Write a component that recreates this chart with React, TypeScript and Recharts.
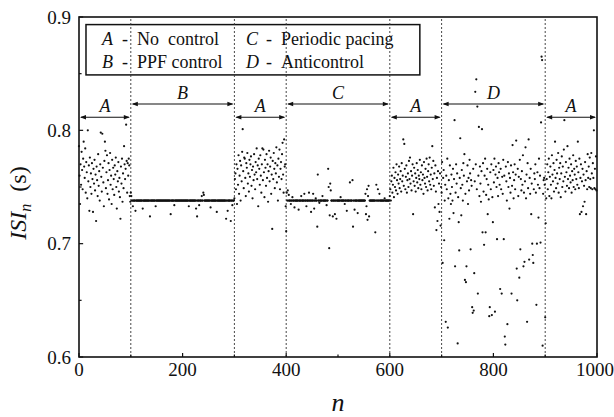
import React from "react";
import {
  ScatterChart,
  Scatter,
  XAxis,
  YAxis,
  ReferenceLine,
  ReferenceArea,
} from "recharts";

// ISI values in ms, one per beat n
const noControl1 = [
  786, 760, 735, 770, 752, 781, 765, 748, 775, 790,
  768, 758, 784, 745, 772, 763, 740, 800, 755, 769,
  729, 776, 750, 762, 744, 771, 757, 728, 766, 753,
  774, 747, 761, 720, 768, 756, 742, 779, 751, 764,
  738, 770, 798, 759, 746, 797, 767, 754, 733, 773,
  790, 782, 749, 763, 778, 744, 756, 771, 739, 765,
  780, 752, 760, 735, 774, 748, 767, 757, 743, 769,
  761, 776, 750, 731, 764, 755, 772, 746, 758, 741,
  722, 768, 753, 775, 737, 762, 749, 786, 770, 757,
  766, 805, 773, 745, 771, 760, 775, 769, 742, 737,
];

const ppfControl = [
  745, 742, 738, 738, 733, 738, 738, 738, 738, 729, 738, 738, 738, 738, 738, 738, 738, 738, 738, 738,
  738, 738, 738, 731, 738, 738, 738, 738, 738, 738, 738, 738, 738, 738, 738, 738, 738, 724, 738, 738,
  738, 738, 738, 738, 738, 738, 738, 738, 733, 738, 738, 738, 738, 738, 738, 738, 738, 738, 738, 738,
  738, 738, 738, 738, 738, 738, 738, 738, 738, 738, 738, 738, 738, 738, 738, 738, 738, 726, 738, 738,
  738, 738, 738, 738, 734, 738, 738, 738, 738, 738, 738, 738, 738, 738, 738, 738, 738, 738, 738, 738,
  738, 738, 738, 738, 738, 738, 738, 738, 738, 738, 738, 738, 733, 738, 738, 738, 738, 738, 738, 738,
  738, 738, 738, 738, 738, 738, 731, 738, 724, 738, 738, 738, 734, 738, 738, 738, 738, 742, 738, 738,
  745, 743, 738, 738, 738, 738, 738, 738, 738, 738, 738, 738, 738, 738, 732, 738, 738, 738, 738, 738,
  738, 738, 738, 738, 738, 738, 728, 738, 738, 738, 738, 738, 738, 738, 738, 738, 738, 738, 738, 738,
  738, 738, 738, 738, 722, 738, 738, 729, 738, 738, 738, 738, 738, 720, 738, 738, 734, 738, 738, 738,
];

const noControl2 = [
  740, 757, 762, 748, 770, 735, 766, 752, 778, 744,
  760, 773, 738, 769, 755, 781, 801, 764, 749, 776,
  775, 758, 742, 771, 767, 780, 753, 762, 746, 774,
  759, 770, 777, 751, 765, 740, 768, 756, 779, 761,
  748, 772, 763, 784, 757, 769, 733, 775, 766, 752,
  778, 760, 745, 770, 784, 756, 783, 763, 741, 774,
  767, 751, 779, 758, 770, 737, 764, 782, 755, 768,
  776, 744, 761, 713, 773, 757, 780, 766, 749, 771,
  762, 785, 754, 769, 738, 775, 759, 783, 748, 766,
  772, 757, 779, 789, 761, 745, 792, 768, 770, 733,
];

const periodicPacing = [
  711, 745, 738, 747, 738, 743, 738, 738, 738, 735, 738, 738, 741, 738, 738, 738, 732, 738, 738, 738,
  738, 738, 738, 738, 730, 738, 738, 738, 738, 742, 738, 738, 738, 738, 738, 744, 738, 738, 738, 733,
  738, 738, 738, 738, 745, 738, 738, 738, 728, 738, 738, 738, 744, 738, 731, 738, 738, 740, 738, 738,
  715, 761, 738, 738, 736, 738, 738, 738, 738, 738, 742, 738, 738, 738, 738, 738, 738, 738, 734, 738,
  738, 766, 750, 696, 725, 753, 747, 738, 738, 738, 724, 738, 738, 738, 726, 738, 738, 722, 738, 738,
  738, 738, 738, 738, 738, 741, 738, 738, 738, 738, 738, 738, 738, 735, 738, 738, 738, 729, 738, 738,
  738, 738, 738, 754, 738, 738, 738, 738, 756, 715, 738, 738, 730, 738, 738, 738, 738, 738, 727, 738,
  738, 738, 738, 738, 738, 738, 738, 738, 738, 738, 738, 738, 738, 744, 726, 733, 748, 721, 742, 751,
  724, 738, 738, 738, 738, 738, 738, 738, 738, 738, 738, 738, 710, 738, 752, 738, 738, 748, 738, 738,
  744, 738, 738, 738, 738, 738, 738, 738, 738, 738, 740, 738, 738, 738, 738, 738, 738, 738, 738, 738,
];

const noControl3 = [
  742, 748, 738, 755, 760, 745, 752, 767, 741, 758,
  750, 763, 747, 770, 756, 744, 761, 753, 768, 749,
  757, 764, 746, 771, 755, 760, 792, 751, 788, 766,
  748, 759, 769, 745, 756, 762, 750, 773, 757, 776,
  753, 764, 747, 760, 770, 726, 755, 767, 751, 762,
  746, 758, 771, 754, 765, 749, 760, 757, 774, 752,
  763, 748, 769, 756, 761, 744, 772, 758, 753, 766,
  750, 775, 759, 747, 764, 770, 755, 776, 752, 761,
  748, 767, 786, 757, 773, 751, 762, 732, 769, 746,
  712, 758, 720, 764, 735, 753, 728, 762, 716, 750,
];

const antiControl = [
  745, 772, 683, 758, 765, 703, 738, 752, 631, 760, 748, 775, 626, 740, 756, 722, 769, 744, 735, 761,
  750, 738, 766, 727, 757, 809, 680, 745, 770, 753, 762, 612, 741, 719, 694, 758, 793, 749, 725, 765,
  752, 738, 771, 760, 779, 668, 744, 666, 680, 755, 769, 735, 758, 747, 774, 762, 695, 756, 751, 644,
  639, 766, 641, 674, 755, 834, 770, 845, 748, 821, 656, 760, 803, 742, 768, 753, 737, 764, 801, 710,
  771, 746, 699, 760, 775, 710, 743, 757, 766, 726, 752, 739, 636, 644, 763, 748, 770, 637, 741, 719,
  765, 754, 775, 640, 761, 768, 750, 704, 758, 742, 771, 763, 752, 660, 766, 748, 656, 759, 744, 774,
  704, 760, 618, 611, 768, 755, 738, 629, 772, 750, 762, 731, 758, 745, 769, 656, 751, 787, 763, 740,
  756, 770, 748, 761, 791, 678, 650, 766, 742, 759, 670, 774, 695, 757, 747, 764, 752, 778, 680, 745,
  684, 755, 785, 740, 761, 631, 771, 749, 792, 686, 758, 744, 766, 726, 753, 700, 690, 683, 748, 762,
  757, 770, 745, 646, 700, 763, 752, 723, 775, 749, 760, 701, 807, 865, 862, 610, 744, 756, 758, 752,
];

const noControl4 = [
  635, 718, 740, 757, 770, 748, 763, 775, 742, 759,
  768, 752, 740, 778, 761, 755, 771, 746, 765, 790,
  758, 749, 774, 762, 753, 780, 745, 767, 757, 771,
  741, 762, 777, 750, 768, 755, 783, 809, 759, 746,
  772, 763, 751, 786, 757, 767, 749, 775, 760, 754,
  770, 745, 764, 756, 778, 750, 766, 761, 748, 773,
  757, 768, 752, 790, 763, 749, 775, 726, 758, 770,
  728, 755, 766, 733, 761, 751, 737, 772, 756, 726,
  764, 748, 779, 758, 768, 750, 776, 757, 749, 780,
  762, 748, 771, 758, 800, 749, 766, 748, 777, 747,
];

const segments = [
  { start: 0, values: noControl1 },
  { start: 100, values: ppfControl },
  { start: 300, values: noControl2 },
  { start: 400, values: periodicPacing },
  { start: 600, values: noControl3 },
  { start: 700, values: antiControl },
  { start: 900, values: noControl4 },
];

const regions = [
  { from: 0, to: 100, label: "A" },
  { from: 100, to: 300, label: "B" },
  { from: 300, to: 400, label: "A" },
  { from: 400, to: 600, label: "C" },
  { from: 600, to: 700, label: "A" },
  { from: 700, to: 900, label: "D" },
  { from: 900, to: 1000, label: "A" },
];

const boundaries = [100, 300, 400, 600, 700, 900];
const xTicks = [0, 200, 400, 600, 800, 1000];
const xMinor = [100, 300, 500, 700, 900];
const yTicks = [0.6, 0.7, 0.8, 0.9];
const yMinor = [0.65, 0.75, 0.85];

const legendRows = [
  [
    { key: "A", text: "No  control" },
    { key: "C", text: "Periodic pacing" },
  ],
  [
    { key: "B", text: "PPF control" },
    { key: "D", text: "Anticontrol" },
  ],
];

const points = segments.flatMap((s) =>
  s.values.map((v, i) => ({ n: s.start + i, isi: v / 1000 }))
);

const FONT = "'Liberation Serif', 'Times New Roman', serif";

const Dot = (props: any) => (
  <circle cx={props.cx} cy={props.cy} r={1.1} fill="#111" />
);

const Arrow = (label: string) => (p: any) => {
  const { x1, x2, y1 } = p;
  const h = 6;
  const w = 2.2;
  return (
    <g>
      <line x1={x1 + 2} x2={x2 - 2} y1={y1} y2={y1} stroke="#111" strokeWidth={1.1} />
      <polygon
        points={`${x1 + 1},${y1} ${x1 + 1 + h},${y1 - w} ${x1 + 1 + h},${y1 + w}`}
        fill="#111"
      />
      <polygon
        points={`${x2 - 1},${y1} ${x2 - 1 - h},${y1 - w} ${x2 - 1 - h},${y1 + w}`}
        fill="#111"
      />
      <text
        x={(x1 + x2) / 2}
        y={y1 - 5}
        textAnchor="middle"
        fontFamily={FONT}
        fontStyle="italic"
        fontSize={18}
        fill="#111"
      >
        {label}
      </text>
    </g>
  );
};

const LegendBox = (p: any) => {
  const { x, y, width, height } = p;
  return (
    <g fontFamily={FONT} fontSize={18} fill="#111">
      <rect x={x} y={y} width={width} height={height} fill="#fff" stroke="#111" strokeWidth={1.5} />
      {legendRows.map((row, r) =>
        row.map((item, c) => {
          const bx = x + 16 + c * 144;
          const by = y + 20.5 + r * 22.5;
          return (
            <g key={`${r}-${c}`}>
              <text x={bx} y={by} fontStyle="italic">
                {item.key}
              </text>
              <text x={bx + 23} y={by} textAnchor="middle">
                -
              </text>
              <text x={bx + 35} y={by} style={{ whiteSpace: "pre" }}>
                {item.text}
              </text>
            </g>
          );
        })
      )}
    </g>
  );
};

const Frame = (p: any) => (
  <rect x={p.x} y={p.y} width={p.width} height={p.height} fill="none" stroke="#111" strokeWidth={1.6} />
);

export default function App() {
  return (
    <div style={{ position: "absolute", left: 0, top: 0, background: "#fff" }}>
      <ScatterChart
        width={614}
        height={417}
        margin={{ top: 17, right: 17, bottom: 0, left: 0 }}
      >
        <XAxis
          dataKey="n"
          type="number"
          domain={[0, 1000]}
          ticks={xTicks}
          height={60}
          tickSize={0}
          tickMargin={6}
          axisLine={false}
          tick={{ fontFamily: FONT, fontSize: 19, fill: "#111" }}
          label={{
            value: "n",
            position: "insideBottom",
            offset: 6,
            style: { fontFamily: FONT, fontStyle: "italic", fontSize: 26, fill: "#111" },
          }}
        />
        <YAxis
          dataKey="isi"
          type="number"
          domain={[0.6, 0.9]}
          ticks={yTicks}
          allowDataOverflow
          width={79}
          tickSize={0}
          tickMargin={8}
          axisLine={false}
          tickFormatter={(v: number) => v.toFixed(1)}
          tick={{ fontFamily: FONT, fontSize: 19, fill: "#111" }}
        />
        {boundaries.map((b) => (
          <ReferenceLine
            key={`b${b}`}
            x={b}
            stroke="#333"
            strokeWidth={0.9}
            strokeDasharray="2 2"
          />
        ))}
        {xTicks.concat(xMinor).map((t) => (
          <ReferenceLine
            key={`xt${t}`}
            segment={[
              { x: t, y: 0.6 },
              { x: t, y: xMinor.includes(t) ? 0.6022 : 0.6036 },
            ]}
            stroke="#111"
            strokeWidth={1.2}
          />
        ))}
        {yTicks.concat(yMinor).map((t) => (
          <ReferenceLine
            key={`yt${t}`}
            segment={[
              { x: 0, y: t },
              { x: yMinor.includes(t) ? 5 : 8, y: t },
            ]}
            stroke="#111"
            strokeWidth={1.2}
          />
        ))}
        {regions.map((r, i) => {
          const level = r.label === "A" ? 0.8115 : 0.8232;
          return (
            <ReferenceLine
              key={`r${i}`}
              segment={[
                { x: r.from, y: level },
                { x: r.to, y: level },
              ]}
              shape={Arrow(r.label)}
            />
          );
        })}
        <ReferenceArea x1={13.5} x2={658} y1={0.8489} y2={0.8933} shape={LegendBox} />
        <ReferenceArea x1={0} x2={1000} y1={0.6} y2={0.9} shape={Frame} />
        <Scatter data={points} shape={Dot} isAnimationActive={false} />
      </ScatterChart>
      <svg
        width={40}
        height={120}
        style={{ position: "absolute", left: 0, top: 140 }}
      >
        <text
          transform="translate(26,63) rotate(-90)"
          textAnchor="middle"
          fontFamily={FONT}
          fontSize={24}
          fill="#111"
        >
          <tspan fontStyle="italic">ISI</tspan>
          <tspan fontStyle="italic" fontSize={16} dy={5}>n</tspan>
          <tspan dy={-5} style={{ whiteSpace: "pre" }}>{"  (s)"}</tspan>
        </text>
      </svg>
    </div>
  );
}
